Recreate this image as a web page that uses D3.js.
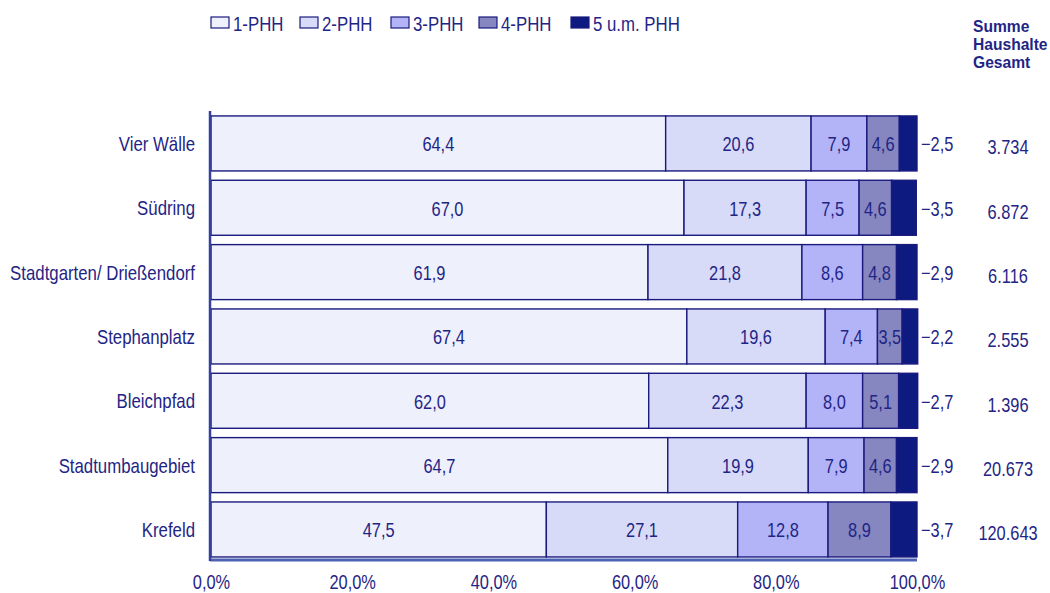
<!DOCTYPE html>
<html><head><meta charset="utf-8">
<script src="https://cdn.jsdelivr.net/npm/d3@7"></script>
<style>
body{margin:0;background:#fff;}
text{font-family:"Liberation Sans",Arial,sans-serif;fill:#1f2585;}
</style></head>
<body><svg id="c" width="1050" height="593"></svg>
<script>
const categories = ["Vier Wälle","Südring","Stadtgarten/ Drießendorf","Stephanplatz","Bleichpfad","Stadtumbaugebiet","Krefeld"];
const seriesNames = ["1-PHH","2-PHH","3-PHH","4-PHH","5 u.m. PHH"];
const phh1 = [64.4,67.0,61.9,67.4,62.0,64.7,47.5];
const phh2 = [20.6,17.3,21.8,19.6,22.3,19.9,27.1];
const phh3 = [7.9,7.5,8.6,7.4,8.0,7.9,12.8];
const phh4 = [4.6,4.6,4.8,3.5,5.1,4.6,8.9];
const phh5 = [2.5,3.5,2.9,2.2,2.7,2.9,3.7];
const totals = ["3.734","6.872","6.116","2.555","1.396","20.673","120.643"];
const headerLines = ["Summe","Haushalte","Gesamt"];
const xTicks = [0,20,40,60,80,100];
const colors = ["#eef0fc","#d8dbf8","#b3b4f8","#8686c0","#0d1a80"];

const SX = 0.82, FS = "20px";
const series = [phh1,phh2,phh3,phh4,phh5];
const data = categories.map((c,i)=>{const o={cat:c}; seriesNames.forEach((s,j)=>o[s]=series[j][i]); return o;});
const stack = d3.stack().keys(seriesNames)(data);

const svg = d3.select("#c");
const x = d3.scaleLinear().domain([0,100]).range([211,917]);
const y = d3.scaleBand().domain(categories).range([111.3,561.6]).paddingInner(0.145).paddingOuter(0.072);
const fmt = v => d3.format(".1f")(v).replace(".",",");

function label(g, data, fx, fy, ft, anchor){
  return g.selectAll(null).data(data).join("text")
    .attr("transform",(d,i)=>`translate(${fx(d,i)},${fy(d,i)}) scale(${SX},1)`)
    .attr("text-anchor",anchor).style("font-size",FS).text(ft);
}

// bars
stack.forEach((layer,j)=>{
  svg.append("g").selectAll("rect").data(layer).join("rect")
    .attr("x",d=>x(d[0])).attr("y",d=>y(d.data.cat))
    .attr("width",d=>x(d[1])-x(d[0])).attr("height",y.bandwidth())
    .attr("fill",colors[j]).attr("stroke","#1a1a7e").attr("stroke-width",1.4);
});
const cy = d => y(d.data.cat)+y.bandwidth()/2+8;
stack.slice(0,4).forEach(layer=>{
  label(svg.append("g"), layer, d=>(x(d[0])+x(d[1]))/2, cy, d=>fmt(d[1]-d[0]), "middle");
});
label(svg.append("g"), stack[4], ()=>x(100)+4, cy, d=>"\u2212"+fmt(d[1]-d[0]), "start");
label(svg.append("g"), categories, ()=>1008, d=>y(d)+y.bandwidth()/2+11, (d,i)=>totals[i], "middle");

// axes
const xAxis = d3.axisBottom(x).tickValues(xTicks).tickSize(0).tickFormat(v=>fmt(v)+"%");
const gx = svg.append("g").attr("transform","translate(0,560)").call(xAxis);
gx.select(".domain").attr("stroke","#4d62b4").attr("stroke-width",3).attr("d","M210,0H917");
gx.selectAll("text").style("font-size",FS).attr("dy",null).attr("y",0)
  .attr("transform",`translate(0,29) scale(${SX},1)`).attr("fill","#1f2585");
const yAxis = d3.axisLeft(y).tickSize(0).tickPadding(0);
const gy = svg.append("g").attr("transform","translate(210,0)").call(yAxis);
gy.select(".domain").attr("stroke","#33409e").attr("stroke-width",2.5).attr("d","M0,111V561");
gy.selectAll("text").style("font-size","20.5px").attr("dy",null).attr("x",0).attr("y",0)
  .attr("transform",`translate(-15,7.5) scale(${SX},1)`).attr("fill","#1f2585");
gx.attr("font-family",null).attr("font-size",null);
gy.attr("font-family",null).attr("font-size",null);

// legend
const lx = [211,300,391,479,571];
const lg = svg.append("g").selectAll("g").data(seriesNames).join("g").attr("transform",(d,i)=>`translate(${lx[i]},17)`);
lg.append("rect").attr("width",18).attr("height",11).attr("fill",(d,i)=>colors[i]).attr("stroke","#1a1a7e").attr("stroke-width",1.2);
lg.append("text").attr("transform",`translate(22,14) scale(${SX},1)`).style("font-size","20.5px").text(d=>d);

// header
svg.append("g").selectAll("text").data(headerLines).join("text")
  .attr("x",973).attr("y",(d,i)=>32+i*18)
  .style("font-size","15.6px").style("font-weight","bold").text(d=>d);
</script></body></html>
